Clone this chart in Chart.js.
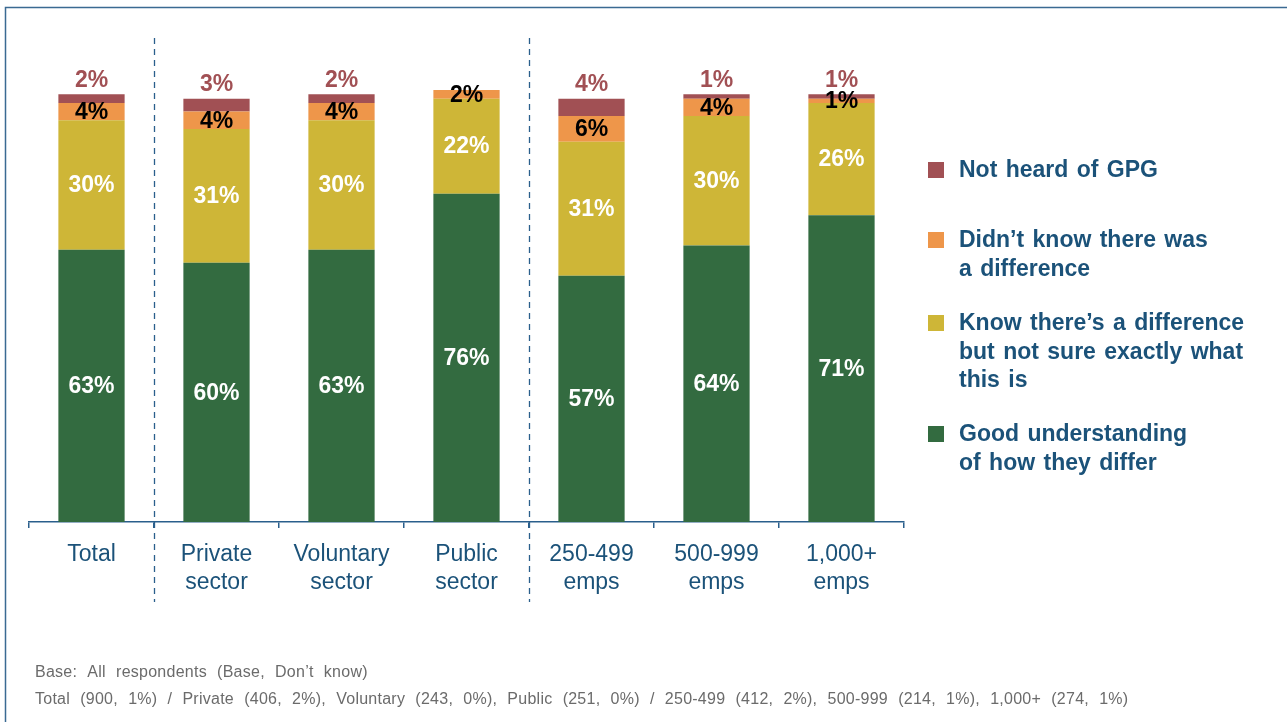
<!DOCTYPE html>
<html>
<head>
<meta charset="utf-8">
<script src="https://cdn.jsdelivr.net/npm/chart.js@4.4.1/dist/chart.umd.min.js"></script>
<style>
    html, body { margin: 0; padding: 0; background: #ffffff; }
    #wrap { width: 1287px; height: 722px; }
</style>
</head>
<body>
<div id="wrap"><canvas id="myChart" width="1287" height="722"></canvas></div>
<script>
/* ========== Dados =============== */

const categories = [
    ['Total'],
    ['Private', 'sector'],
    ['Voluntary', 'sector'],
    ['Public', 'sector'],
    ['250-499', 'emps'],
    ['500-999', 'emps'],
    ['1,000+', 'emps']
];

const goodUnderstanding = [63, 60, 63, 76, 57, 64, 71];
const knowDifference = [30, 31, 30, 22, 31, 30, 26];
const didntKnow = [4, 4, 4, 2, 6, 4, 1];
const notHeard = [2, 3, 2, 0, 4, 1, 1];

const legendGood = ['Good understanding', 'of how they differ'];
const legendKnow = ['Know there\u2019s a difference', 'but not sure exactly what', 'this is'];
const legendDidnt = ['Didn\u2019t know there was', 'a difference'];
const legendNotHeard = ['Not heard of GPG'];

const footnotes = [
    'Base: All respondents (Base, Don\u2019t know)',
    'Total (900, 1%) / Private (406, 2%), Voluntary (243, 0%), Public (251, 0%) / 250-499 (412, 2%), 500-999 (214, 1%), 1,000+ (274, 1%)'
];

// separadores tracejados depois destes indices
const groupEnds = [0, 3];

/* ========== Estilo =============== */

const GREEN = '#336B40';
const YELLOW = '#CEB637';
const ORANGE = '#EE964A';
const RED = '#A15054';
const BLUE_TEXT = '#1B5279';
const FONT = '"Liberation Sans", Arial, sans-serif';

/* ========== Plugins =============== */

// moldura azul em volta do grafico
const framePlugin = {
    id: 'frame',
    beforeDraw(chart) {
        const ctx = chart.ctx;
        ctx.save();
        ctx.strokeStyle = '#3A6A92';
        ctx.lineWidth = 1.5;
        ctx.beginPath();
        ctx.moveTo(5.5, chart.height);
        ctx.lineTo(5.5, 7.5);
        ctx.lineTo(chart.width, 7.5);
        ctx.stroke();
        ctx.restore();
    }
};

// linhas tracejadas entre os grupos
const separatorPlugin = {
    id: 'separators',
    afterDraw(chart) {
        const ctx = chart.ctx;
        const x = chart.scales.x;
        ctx.save();
        ctx.strokeStyle = '#2A5F8C';
        ctx.lineWidth = 1.3;
        ctx.setLineDash([6, 5]);
        groupEnds.forEach(function (i) {
            const px = Math.round((x.getPixelForValue(i) + x.getPixelForValue(i + 1)) / 2) + 0.5;
            ctx.beginPath();
            ctx.moveTo(px, 38);
            ctx.lineTo(px, 602);
            ctx.stroke();
        });
        ctx.restore();
    }
};

// rotulos de valor nas barras
const valueLabelPlugin = {
    id: 'valueLabels',
    afterDatasetsDraw(chart) {
        const ctx = chart.ctx;
        ctx.save();
        ctx.font = 'bold 23px ' + FONT;
        ctx.textAlign = 'center';
        ctx.textBaseline = 'middle';
        chart.data.datasets.forEach(function (ds, di) {
            const meta = chart.getDatasetMeta(di);
            meta.data.forEach(function (bar, i) {
                const v = ds.data[i];
                if (!v) return;
                let y = (bar.y + bar.base) / 2;
                if (ds.labelAbove) y = bar.y - 15;
                ctx.fillStyle = ds.labelColor;
                ctx.fillText(v + '%', bar.x, y + 1);
            });
        });
        ctx.restore();
    }
};

// legenda a direita, de cima para baixo
const legendPlugin = {
    id: 'sideLegend',
    afterDraw(chart) {
        const ctx = chart.ctx;
        const items = [
            { color: RED, lines: legendNotHeard, y: 170 },
            { color: ORANGE, lines: legendDidnt, y: 240 },
            { color: YELLOW, lines: legendKnow, y: 323 },
            { color: GREEN, lines: legendGood, y: 434 }
        ];
        ctx.save();
        ctx.font = 'bold 23px ' + FONT;
        ctx.wordSpacing = '2px';
        ctx.textAlign = 'left';
        ctx.textBaseline = 'middle';
        items.forEach(function (item) {
            ctx.fillStyle = item.color;
            ctx.fillRect(928, item.y - 8, 16, 16);
            ctx.fillStyle = BLUE_TEXT;
            item.lines.forEach(function (line, k) {
                ctx.fillText(line, 959, item.y + 1 + k * 28.5);
            });
        });
        ctx.restore();
    }
};

// notas de rodape
const footnotePlugin = {
    id: 'footnotes',
    afterDraw(chart) {
        const ctx = chart.ctx;
        ctx.save();
        ctx.font = '16px ' + FONT;
        ctx.letterSpacing = '0.25px';
        ctx.wordSpacing = '5.5px';
        ctx.fillStyle = '#6B6B6B';
        ctx.textAlign = 'left';
        ctx.textBaseline = 'middle';
        footnotes.forEach(function (line, k) {
            ctx.fillText(line, 35, 673 + k * 27);
        });
        ctx.restore();
    }
};

/* ========== Grafico =============== */

const ctxBarras = document.getElementById('myChart');

new Chart(ctxBarras, {
    type: 'bar',
    data: {
        labels: categories,
        datasets: [{
            label: legendGood.join(' '),
            data: goodUnderstanding,
            backgroundColor: GREEN,
            labelColor: '#FFFFFF'
        }, {
            label: legendKnow.join(' '),
            data: knowDifference,
            backgroundColor: YELLOW,
            labelColor: '#FFFFFF'
        }, {
            label: legendDidnt.join(' '),
            data: didntKnow,
            backgroundColor: ORANGE,
            labelColor: '#000000'
        }, {
            label: legendNotHeard.join(' '),
            data: notHeard,
            backgroundColor: RED,
            labelColor: RED,
            labelAbove: true
        }]
    },
    options: {
        responsive: false,
        animation: false,
        devicePixelRatio: 1,
        layout: {
            padding: { left: 29, right: 383, top: 90, bottom: 113 }
        },
        datasets: {
            bar: {
                categoryPercentage: 1,
                barPercentage: 0.53,
                borderWidth: 0
            }
        },
        plugins: {
            legend: { display: false },
            tooltip: { enabled: false }
        },
        scales: {
            x: {
                stacked: true,
                border: { display: true, color: '#2A5F8C', width: 1.5 },
                grid: {
                    display: true,
                    offset: true,
                    drawOnChartArea: false,
                    drawTicks: true,
                    tickLength: 6,
                    color: '#2A5F8C',
                    lineWidth: 1.5
                },
                ticks: {
                    color: BLUE_TEXT,
                    padding: 12,
                    maxRotation: 0,
                    autoSkip: false,
                    font: { family: FONT, size: 23, lineHeight: 1.24 }
                }
            },
            y: {
                stacked: true,
                display: false,
                min: 0,
                max: 100
            }
        }
    },
    plugins: [framePlugin, separatorPlugin, valueLabelPlugin, legendPlugin, footnotePlugin]
});
</script>
</body>
</html>
